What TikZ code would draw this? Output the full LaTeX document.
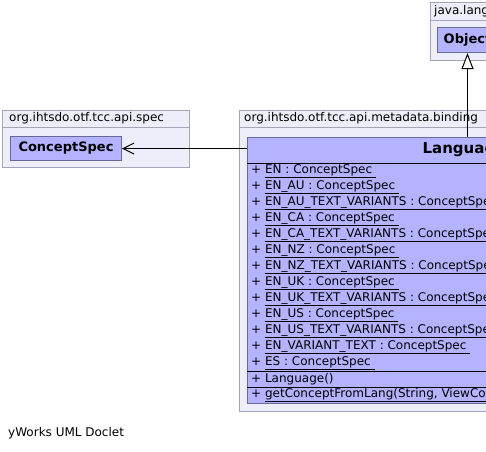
\documentclass[tikz,border=0pt]{standalone}
\usepackage{fontspec}
\setmainfont{DejaVu Sans}
\usetikzlibrary{arrows.meta}
\definecolor{pkgfill}{RGB}{238,238,250}
\definecolor{pkgdraw}{RGB}{165,165,185}
\definecolor{clsfill}{RGB}{179,179,255}
\definecolor{clsdraw}{RGB}{105,105,150}
\begin{document}
\begin{tikzpicture}[x=1pt,y=-1pt,
  pkg/.style={fill=pkgfill, draw=pkgdraw, line width=1pt},
  cls/.style={fill=clsfill, draw=clsdraw, line width=1pt, inner sep=0pt, anchor=north west},
  txt/.style={font=\fontsize{12}{14}\selectfont, inner sep=0pt, anchor=west},
  clsname/.style={font=\fontsize{13}{15}\selectfont\bfseries},
  sep/.style={line width=1pt, draw=black},
  conn/.style={line width=1pt, draw=black}]
\useasboundingbox (0,0) rectangle (486,451);
\clip (0,0) rectangle (486,451);
\fill[white] (0,0) rectangle (486,451);
% packages
\draw[pkg] (2,110) rectangle (189,127);
\draw[pkg] (2,127) rectangle (189,167);
\node[txt] (pspec) at (9,118.5) {org.ihtsdo.otf.tcc.api.spec};
\draw[pkg] (239,110) rectangle (700,127);
\draw[pkg] (239,127) rectangle (700,411);
\node[txt] (pbind) at (244,118.5) {org.ihtsdo.otf.tcc.api.metadata.binding};
\draw[pkg] (430,2) rectangle (700,20);
\draw[pkg] (430,20) rectangle (700,60);
\node[txt] (plang) at (434,11) {java.lang};
% classes
\node[cls, minimum width=111pt, minimum height=24pt, clsname] (cspec) at (10,136) {ConceptSpec};
\node[cls, minimum width=60pt, minimum height=25pt, clsname] (obj) at (437,27) {Object};
\node[cls, minimum width=433pt, minimum height=266pt] (lang) at (247,137) {};
\node[font=\fontsize{15}{17}\selectfont\bfseries, inner sep=0pt] (langname) at (lang.north |- 0,150) {Language};
\draw[sep] (lang.west |- 0,163) -- (lang.east |- 0,163);
\draw[sep] (lang.west |- 0,371) -- (lang.east |- 0,371);
\draw[sep] (lang.west |- 0,387) -- (lang.east |- 0,387);
\foreach \n [count=\i from 0] in {EN,EN\_AU,EN\_AU\_TEXT\_VARIANTS,EN\_CA,EN\_CA\_TEXT\_VARIANTS,EN\_NZ,EN\_NZ\_TEXT\_VARIANTS,EN\_UK,EN\_UK\_TEXT\_VARIANTS,EN\_US,EN\_US\_TEXT\_VARIANTS,EN\_VARIANT\_TEXT,ES}
  \node[txt] (attr\i) at (251,{171+16*\i}) {+ \underline{\n{} : ConceptSpec\ }};
\node[txt] (ctor) at (251,379) {+ Language()};
\node[txt] (meth) at (251,395) {+ \underline{getConceptFromLang(String, ViewCoordinate)}};
% connectors
\draw[conn, -{Straight Barb[length=11pt,width=11pt,line width=1pt]}] (cspec.east -| lang.west) -- (cspec.east);
\draw[conn, -{Triangle[length=16pt,width=12pt,fill=white,line width=1pt]}] (obj.south |- lang.north) -- (obj.south);
% footer
\node[txt] (footer) at (8,433) {yWorks UML Doclet};
\end{tikzpicture}
\end{document}
